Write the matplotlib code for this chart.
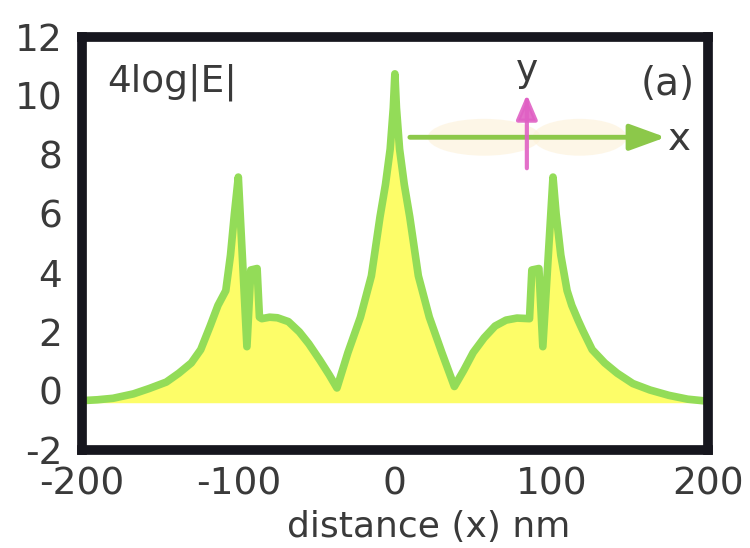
import matplotlib
matplotlib.use("Agg")
import matplotlib.pyplot as plt
from matplotlib.patches import Ellipse

# ---- data ----
x_nm = [-200, -190, -180, -167, -157, -146, -138, -130, -124, -118, -113, -108,
        -105, -102.5, -100, -94.5, -92, -88, -86.5, -85, -80, -75, -68, -61,
        -55, -48, -42, -37, -30, -22, -15, -9.5, -6, -3, -1, 0, 1, 3, 6, 9.5,
        15, 22, 30, 38, 44, 50, 57, 64, 71, 78, 86, 87.5, 92, 94.5, 101, 103,
        106, 110, 113, 117, 120, 126, 134, 142, 152, 163, 175, 187, 200]
log_e = [-0.33, -0.30, -0.25, -0.10, 0.08, 0.30, 0.60, 0.95, 1.40, 2.20, 2.90,
         3.40, 4.60, 6.00, 7.25, 1.50, 4.10, 4.15, 2.50, 2.45, 2.50, 2.48,
         2.35, 2.00, 1.60, 1.05, 0.55, 0.10, 1.30, 2.50, 3.90, 5.90, 7.00,
         8.20, 9.60, 10.75, 9.60, 8.20, 7.00, 5.90, 3.90, 2.50, 1.30, 0.15,
         0.70, 1.30, 1.80, 2.20, 2.40, 2.47, 2.45, 4.10, 4.15, 1.50, 7.25,
         6.00, 4.60, 3.40, 2.90, 2.40, 2.05, 1.40, 0.95, 0.60, 0.25, 0.03,
         -0.15, -0.28, -0.35]
fill_base = -0.4

x_ticks = [-200, -100, 0, 100, 200]
y_ticks = [-2, 0, 2, 4, 6, 8, 10, 12]
x_label = "distance (x) nm"
quantity_label = "4log|E|"
panel_label = "(a)"

# ---- figure ----
plt.rcParams['font.family'] = ['DejaVu Sans']
fig = plt.figure(figsize=(7.5, 5.48), dpi=100)
ax = fig.add_axes([0.109, 0.179, 0.835, 0.7535])

txt_col = '#3a3a3a'
line_col = '#93dc58'
fill_col = '#fdfd68'

ax.fill_between(x_nm, log_e, fill_base, color=fill_col, lw=0, zorder=1)
ax.plot(x_nm, log_e, color=line_col, lw=5.5, solid_joinstyle='round',
        solid_capstyle='round', zorder=2)

ax.set_xlim(-200, 200)
ax.set_ylim(-2, 12)
ax.set_xticks(x_ticks)
ax.set_yticks(y_ticks)
ax.set_xticklabels([str(v) for v in x_ticks])
ax.set_yticklabels([str(v) for v in y_ticks])
ax.tick_params(length=0, labelsize=27, labelcolor=txt_col)
ax.tick_params(axis='x', pad=12)
ax.tick_params(axis='y', pad=14)

for sp in ax.spines.values():
    sp.set_linewidth(7)
    sp.set_color('#16161e')
    sp.set_zorder(5)

# inset diagram
ax.add_patch(Ellipse((57, 8.6), 72, 1.25, facecolor='#fdf1d8', edgecolor='none',
                     alpha=0.6, zorder=2.5))
ax.add_patch(Ellipse((118, 8.6), 60, 1.25, facecolor='#fdf1d8', edgecolor='none',
                     alpha=0.6, zorder=2.5))
ax.annotate('', xy=(173, 8.6), xytext=(9.6, 8.6),
            arrowprops=dict(arrowstyle='-|>,head_length=1.1,head_width=0.4',
                            color='#8cc84a', lw=3.5, mutation_scale=20,
                            shrinkA=0, shrinkB=0), zorder=3)
ax.annotate('', xy=(84.3, 10.05), xytext=(84.3, 7.55),
            arrowprops=dict(arrowstyle='-|>,head_length=0.75,head_width=0.32',
                            color='#e060c4', lw=3, mutation_scale=20,
                            shrinkA=0, shrinkB=0, alpha=0.9), zorder=4)
ax.text(182, 8.55, 'x', fontsize=28, color=txt_col, ha='center', va='center')
ax.text(84.3, 10.85, 'y', fontsize=27, color=txt_col, ha='center', va='center')

ax.text(-184, 10.45, quantity_label, fontsize=27, color=txt_col,
        ha='left', va='center')
ax.text(174, 10.4, panel_label, fontsize=28, color=txt_col,
        ha='center', va='center')

fig.text(429 / 750, 1 - 527 / 548, x_label, fontsize=26, color=txt_col,
         ha='center', va='center')

fig.savefig('out.png', dpi=100, facecolor='white')
